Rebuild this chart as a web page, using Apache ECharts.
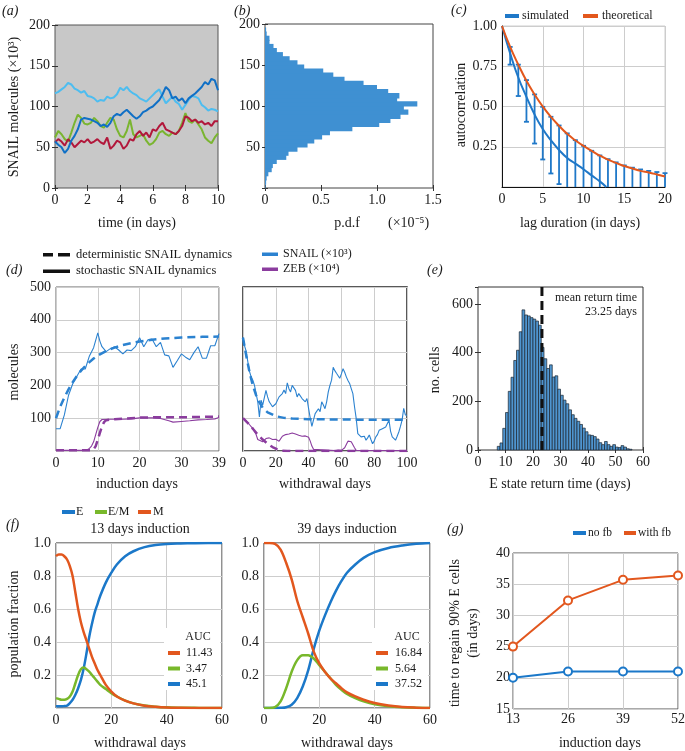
<!DOCTYPE html>
<html><head><meta charset="utf-8">
<script src="https://cdn.jsdelivr.net/npm/echarts@6/dist/echarts.min.js"></script>
<style>html,body{margin:0;padding:0;background:#fff}#c{width:685px;height:751px}</style>
</head><body><div id="c"></div><script>
// ---------------- DATA ----------------
// (a) SNAIL trajectories
const aTime = [0,0.2,0.4,0.6,0.8,1.0,1.2,1.4,1.6,1.8,2.0,2.2,2.4,2.6,2.8,3.0,3.2,3.4,3.6,3.8,4.0,4.2,4.4,4.6,4.8,5.0,5.2,5.4,5.6,5.8,6.0,6.2,6.4,6.6,6.8,7.0,7.2,7.4,7.6,7.8,8.0,8.2,8.4,8.6,8.8,9.0,9.2,9.4,9.6,9.8,10];
const aLightBlue = [116,118,121,124,129,127,122,120,117,119,113,112,110,106,108,107,112,110,111,115,123,120,124,119,116,114,110,108,106,110,114,118,121,112,104,108,112,106,103,96,102,108,113,112,110,102,99,95,97,96,94];
const aDarkBlue = [57,53,50,43,48,58,64,72,84,86,85,84,82,80,76,78,75,80,88,91,89,93,96,92,88,85,88,93,95,98,100,104,108,115,124,120,110,112,107,110,104,110,113,116,120,124,130,127,134,132,120];
const aGreen = [62,70,66,60,57,68,80,90,86,79,78,80,86,82,76,74,80,86,84,72,64,62,70,84,66,62,64,66,58,53,55,60,68,70,66,64,68,66,70,80,92,82,80,84,78,72,62,58,55,62,67];
const aRed = [56,60,57,52,60,56,50,54,58,56,60,55,57,60,56,54,62,48,52,58,56,48,52,60,58,66,70,64,68,62,72,70,76,80,72,70,68,66,70,76,88,86,82,84,80,82,78,80,76,82,82];

// (b) stationary pdf histogram (bins of SNAIL x10^3)
const pdfBinStart = [0,5,10,15,20,25,30,35,40,45,50,55,60,65,70,75,80,85,90,95,100,105,110,115,120,125,130,135,140,145,150,155,160,165,170,175,180,185,190,195];
const pdfBinWidth = 5;
const pdfValues = [0.005,0.01,0.015,0.03,0.06,0.07,0.105,0.19,0.21,0.29,0.38,0.44,0.51,0.58,0.78,1.02,1.12,1.21,1.28,1.24,1.36,1.18,1.2,1.1,1.0,0.88,0.71,0.61,0.52,0.35,0.29,0.22,0.16,0.106,0.076,0.04,0.04,0.015,0.01,0];

// (c) autocorrelation
const lagTheo = [0,1,2,3,4,5,6,7,8,9,10,11,12,13,14,15,16,17,18,19,20];
const acTheo = [1.0,0.87,0.76,0.66,0.575,0.5,0.435,0.38,0.33,0.29,0.255,0.225,0.195,0.17,0.15,0.13,0.115,0.1,0.09,0.078,0.065];
const lagSim = [0,1,2,3,4,5,6,7,8,9,10,11,12,12.8];
const acSim = [1.0,0.83,0.68,0.56,0.45,0.36,0.29,0.23,0.18,0.145,0.11,0.072,0.035,0];
const lagErr = [1,2,3,4,5,6,7,8,9,10,11,12,13,14,15,16,17,18,19,20];
const errHigh = [0.87,0.76,0.664,0.575,0.498,0.436,0.382,0.333,0.291,0.256,0.225,0.196,0.173,0.153,0.134,0.12,0.109,0.1,0.093,0.086];
const errLow = [0.76,0.565,0.405,0.27,0.171,0.084,0.018,-0.05,-0.1,-0.14,-0.17,-0.2,-0.22,-0.24,-0.26,-0.27,-0.28,-0.29,-0.3,-0.3];

// (d) induction (left) and withdrawal (right)
const dLSnailT = [0,1,2,3,4,4.5,5,6,7,8,9,10,10.5,11,12,13,14,15,16,17,18,19,20,21,22,23,24,25,26,27,28,29,30,31,32,33,34,35,36,37,38,39];
const dLSnailV = [68,68,110,170,205,216,228,250,250,290,315,360,335,318,303,312,318,308,296,308,306,318,345,318,339,341,318,331,293,290,255,275,296,286,278,300,318,283,283,321,321,358];
const dLSnailDetT = [0,1,2,3,4,5,6,7,8,9,10,12,14,16,18,20,23,26,30,35,39];
const dLSnailDetV = [100,135,163,188,210,229,245,259,271,282,291,305,315,323,329,334,339,343,346,348,349];
const dLZebT = [0,2,4,6,7,7.5,8,8.5,9,9.5,10,10.5,11,13,16,18,20,23,25,27,28,30,32,34,36,38,39];
const dLZebV = [2,2,2,2,2,4,8,15,28,50,72,90,96,97,97,98,101,101,99,92,88,90,92,95,96,98,102];
const dLZebDetT = [0,8.5,9,9.5,10,10.5,11,11.5,12,14,17,20,25,30,35,39];
const dLZebDetV = [2,2,5,15,35,55,75,88,94,97,99,102,103,103,104,105];
const dRSnailT = [0,1,2,3,4,5,6,7,8,9,10,11,12,13,14,15,16,17,18,19,20,21,22,23,24,25,26,27,28,29,30,31,32,33,34,35,36,37,38,39,40,41,42,43,44,45,46,47,48,49,50,51,52,53,54,55,56,57,58,59,60,61,62,63,64,65,66,67,68,69,70,71,72,73,74,75,76,77,78,79,80,81,82,83,84,85,86,87,88,89,90,91,92,93,94,95,96,97,98,99,100];
const dRSnailV = [347,320,303,270,242,225,216,200,175,150,104,155,140,135,185,165,150,145,135,140,144,150,165,160,175,186,175,208,190,180,200,206,185,165,175,170,160,155,150,160,129,100,75,95,114,110,129,120,150,140,129,150,180,200,216,255,245,237,240,222,235,251,240,226,215,206,190,175,135,100,53,50,43,40,45,33,40,49,35,22,30,43,50,63,60,68,65,73,70,94,60,43,40,33,45,58,75,94,130,110,109];
const dRSnailDetT = [0,2,4,6,8,10,12,15,20,25,30,40,60,80,100];
const dRSnailDetV = [345,290,240,200,170,148,132,118,106,101,99,97,96,95,95];
const dRZebT = [0,2,4,6,8,9,10,12,14,16,18,20,22,24,26,28,30,32,34,36,38,40,41,42,43,44,56,58,60,62,64,65,66,68,69,70,100];
const dRZebV = [100,92,80,68,50,35,30,28,38,40,35,36,30,45,50,52,55,52,48,45,46,42,30,15,5,1,1,3,2,10,30,35,28,10,2,1,1];
const dRZebDetT = [0,3,6,9,12,15,18,21,24,27,100];
const dRZebDetV = [100,85,68,50,35,22,12,5,1,0,0];

// (e) E state return time histogram (1-day bins)
const eBinStart = [7,8,9,10,11,12,13,14,15,16,17,18,19,20,21,22,23,24,25,26,27,28,29,30,31,32,33,34,35,36,37,38,39,40,41,42,43,44,45,46,47,48,49,50,51,52,53,54,55];
const eBinWidth = 1;
const eCounts = [15,29,89,154,241,299,368,410,486,576,555,551,544,538,530,513,422,375,335,350,300,305,250,225,205,190,165,145,130,118,105,90,75,62,60,55,45,30,22,35,22,15,22,12,10,18,12,5,3];
const eMean = 23.25;
const eYMax = 670;

// (f) population fractions after withdrawal
const f13T = [0,1,2,3,4,5,6,7,8,9,10,11,12,13,14,15,16,18,20,22,25,28,32,36,40,45,50,55,60];
const f13E = [0.01,0.01,0.01,0.012,0.015,0.03,0.05,0.08,0.12,0.17,0.24,0.33,0.43,0.51,0.58,0.63,0.68,0.76,0.82,0.87,0.92,0.95,0.975,0.988,0.994,0.997,0.999,1.0,1.0];
const f13EM = [0.06,0.055,0.05,0.05,0.055,0.07,0.1,0.15,0.2,0.235,0.245,0.235,0.22,0.2,0.18,0.16,0.14,0.115,0.09,0.07,0.045,0.028,0.015,0.008,0.004,0.002,0.001,0,0];
const f13M = [0.92,0.93,0.93,0.92,0.9,0.86,0.8,0.7,0.6,0.52,0.46,0.41,0.36,0.31,0.27,0.23,0.2,0.14,0.1,0.07,0.045,0.028,0.014,0.007,0.003,0.001,0,0,0];
const f39T = [0,2,4,6,8,10,12,14,16,18,20,22,24,26,28,30,33,36,40,45,50,55,60];
const f39E = [0,0,0,0.001,0.005,0.02,0.06,0.13,0.23,0.36,0.47,0.56,0.64,0.71,0.77,0.82,0.87,0.91,0.945,0.97,0.985,0.995,1.0];
const f39EM = [0,0,0.005,0.04,0.12,0.22,0.29,0.32,0.32,0.3,0.26,0.22,0.18,0.14,0.11,0.085,0.06,0.04,0.022,0.01,0.004,0.001,0];
const f39M = [1.0,1.0,0.995,0.96,0.88,0.78,0.65,0.55,0.45,0.34,0.27,0.22,0.18,0.15,0.12,0.095,0.07,0.05,0.03,0.015,0.006,0.002,0];
const auc13 = ['11.43','3.47','45.1'];
const auc39 = ['16.84','5.64','37.52'];

// (g) time to regain 90% E cells
const gInduction = [13,26,39,52];
const gNoFb = [20.0,21.0,21.0,21.0];
const gWithFb = [25.0,32.4,35.7,36.4];

// ---------------- STYLE / BUILD ----------------
const FONT = '"Liberation Serif", "Times New Roman", serif';
const TXT = '#1a1a1a';
const GRIDC = '#cdcdcd';
const C = {lb:'#4dbdf0', db:'#1070c6', gr:'#7ab530', rd:'#b2173b', bar:'#3f90d2',
  sim:'#1f78c8', theo:'#e3571c', dBlue:'#2b82d0', dPurple:'#8b3c9e',
  E:'#1b78c9', EM:'#78b82b', M:'#e2571e', hist:'#4f95cf'};

function merge(a,b){ const o=Object.assign({},a); for(const k in b){ const v=b[k];
  if(v && typeof v==='object' && !Array.isArray(v) && typeof v!=='function' && a[k] && typeof a[k]==='object') o[k]=merge(a[k],v); else o[k]=v; } return o; }
const baseAxis = {type:'value', axisLine:{show:false},
  axisTick:{show:true, inside:true, length:3, lineStyle:{color:'#333', width:1}},
  axisLabel:{show:true, color:TXT, fontFamily:FONT, fontSize:14, margin:5},
  splitLine:{show:false}};
const xAxes=[], yAxes=[], series=[];
function X(o){ xAxes.push(merge(baseAxis,o)); return xAxes.length-1; }
function Y(o){ yAxes.push(merge(baseAxis,o)); return yAxes.length-1; }
const noLab = {axisLabel:{show:false}};
const split = {splitLine:{show:true, lineStyle:{color:GRIDC, width:1}}};
const noTick = {axisTick:{show:false}};
function zip(a,b){ return a.map((x,i)=>[x,b[i]]); }
function line(xi, yi, xs, ys, color, width, extra){
  return merge({type:'line', xAxisIndex:xi, yAxisIndex:yi, data:zip(xs,ys), symbol:'none', showSymbol:false,
    lineStyle:{color, width}, itemStyle:{color}, silent:true, z:3}, extra||{});
}

const grids = [
  {left:55, top:25, width:163, height:163, show:true, backgroundColor:'#c8c8c8', borderColor:'#555', borderWidth:1}, // a
  {left:265, top:24, width:168, height:164, show:true, borderColor:'#444', borderWidth:1}, // b
  {left:502, top:26, width:163, height:161, show:true, borderColor:'#cfcfcf', borderWidth:1}, // c
  {left:56, top:287, width:163, height:164, show:true, borderColor:'#666', borderWidth:1}, // d left
  {left:243, top:287, width:164, height:164, show:true, borderColor:'#222', borderWidth:1.5}, // d right
  {left:478, top:287, width:165, height:163, show:true, borderColor:'#333', borderWidth:1}, // e
  {left:56, top:543, width:166, height:165, show:true, borderColor:'#222', borderWidth:1}, // f left
  {left:264, top:543, width:166, height:165, show:true, borderColor:'#222', borderWidth:1}, // f right
  {left:513, top:553, width:165, height:156, show:true, borderColor:'#555', borderWidth:1} // g
].map(g=>Object.assign({outerBoundsMode:'none', containLabel:false}, g));

// (a)
const ax_a = X({gridIndex:0, min:0, max:10, interval:2});
const ay_a = Y({gridIndex:0, min:0, max:200, interval:50});
X({gridIndex:0, min:0, max:10, interval:2, position:'top', ...noLab});
Y({gridIndex:0, min:0, max:200, interval:50, position:'right', ...noLab});
series.push(line(ax_a, ay_a, aTime, aLightBlue, C.lb, 2));
series.push(line(ax_a, ay_a, aTime, aGreen, C.gr, 2));
series.push(line(ax_a, ay_a, aTime, aRed, C.rd, 2));
series.push(line(ax_a, ay_a, aTime, aDarkBlue, C.db, 2));

// (b)
const ax_b = X({gridIndex:1, min:0, max:1.5, interval:0.5, axisLabel:{formatter:v=>v===0?'0':v.toFixed(1)}});
const ay_b = Y({gridIndex:1, min:0, max:200, interval:50, axisLabel:{formatter:v=>v===0?'':String(v)}});
X({gridIndex:1, min:0, max:1.5, interval:0.5, position:'top', ...noLab});
Y({gridIndex:1, min:0, max:200, interval:50, position:'right', ...noLab});
series.push({type:'custom', xAxisIndex:ax_b, yAxisIndex:ay_b, silent:true, z:3,
  data: pdfBinStart.map((s,i)=>[s, s+pdfBinWidth, pdfValues[i]]),
  encode:{x:2, y:0},
  renderItem:(p,api)=>{ const lo=api.value(0), hi=api.value(1), v=api.value(2);
    const p0=api.coord([0,hi]), p1=api.coord([v,lo]);
    return {type:'rect', shape:{x:p0[0], y:p0[1]-0.6, width:p1[0]-p0[0], height:p1[1]-p0[1]+1.2}, style:{fill:C.bar}}; }});

// (c)
const ax_c = X({gridIndex:2, min:0, max:20, interval:5, ...split, ...noTick, axisLine:{show:true, lineStyle:{color:'#111', width:1}}});
const ay_c = Y({gridIndex:2, min:0, max:1, interval:0.25, ...split, ...noTick, axisLine:{show:true, lineStyle:{color:'#111', width:1}},
  axisLabel:{formatter:v=>v===0?'':v.toFixed(2)}});
series.push({type:'custom', xAxisIndex:ax_c, yAxisIndex:ay_c, silent:true, z:3,
  data: lagErr.map((x,i)=>[x, errLow[i], errHigh[i]]), encode:{x:0, y:[1,2]},
  renderItem:(p,api)=>{ const x=api.value(0), loRaw=api.value(1), hi=api.value(2);
    const lo=Math.max(loRaw,0); const a=api.coord([x,hi]), b=api.coord([x,lo]); const w=2.5;
    const st={stroke:C.sim, lineWidth:1.8};
    const ch=[{type:'line', shape:{x1:a[0],y1:a[1],x2:b[0],y2:b[1]}, style:st},
              {type:'line', shape:{x1:a[0]-w,y1:a[1],x2:a[0]+w,y2:a[1]}, style:st}];
    if(loRaw>=0) ch.push({type:'line', shape:{x1:b[0]-w,y1:b[1],x2:b[0]+w,y2:b[1]}, style:st});
    return {type:'group', children:ch}; }});
series.push(line(ax_c, ay_c, lagSim, acSim, C.sim, 2, {smooth:true}));
series.push(line(ax_c, ay_c, lagTheo, acTheo, C.theo, 2, {smooth:true, z:4}));

// (d)
const ax_dL = X({gridIndex:3, min:0, max:39, interval:10, ...split, ...noTick});
const ay_dL = Y({gridIndex:3, min:0, max:500, interval:100, ...split, ...noTick, axisLabel:{formatter:v=>v===0?'':String(v)}});
const ax_dR = X({gridIndex:4, min:0, max:100, interval:20, ...split, ...noTick});
const ay_dR = Y({gridIndex:4, min:0, max:500, interval:100, ...split, ...noTick, ...noLab});
const dash = {lineStyle:{type:[8,5]}};
series.push(line(ax_dL, ay_dL, dLSnailDetT, dLSnailDetV, C.dBlue, 2.5, dash));
series.push(line(ax_dL, ay_dL, dLSnailT, dLSnailV, C.dBlue, 1.1));
series.push(line(ax_dL, ay_dL, dLZebDetT, dLZebDetV, C.dPurple, 2.5, dash));
series.push(line(ax_dL, ay_dL, dLZebT, dLZebV, C.dPurple, 1.1));
series.push(line(ax_dR, ay_dR, dRSnailDetT, dRSnailDetV, C.dBlue, 2.5, dash));
series.push(line(ax_dR, ay_dR, dRSnailT, dRSnailV, C.dBlue, 1.1));
series.push(line(ax_dR, ay_dR, dRZebDetT, dRZebDetV, C.dPurple, 2.5, dash));
series.push(line(ax_dR, ay_dR, dRZebT, dRZebV, C.dPurple, 1.1));

// (e)
const ax_e = X({gridIndex:5, min:0, max:60, interval:10});
const ay_e = Y({gridIndex:5, min:0, max:eYMax, interval:200, axisLabel:{showMaxLabel:false, formatter:v=>v%200===0?String(v):''}});
X({gridIndex:5, min:0, max:60, interval:10, position:'top', ...noLab});
Y({gridIndex:5, min:0, max:eYMax, interval:200, position:'right', ...noLab});
series.push({type:'custom', xAxisIndex:ax_e, yAxisIndex:ay_e, silent:true, z:3,
  data: eBinStart.map((s,i)=>[s, s+eBinWidth, eCounts[i]]), encode:{x:[0,1], y:2},
  renderItem:(p,api)=>{ const a=api.coord([api.value(0), api.value(2)]), b=api.coord([api.value(1), 0]);
    return {type:'rect', shape:{x:a[0], y:a[1], width:b[0]-a[0], height:b[1]-a[1]}, style:{fill:C.hist, stroke:'#1d2630', lineWidth:0.7}}; }});
series.push(line(ax_e, ay_e, [eMean, eMean], [0, eYMax], '#111', 3, {lineStyle:{type:[9,5]}, z:5}));

// (f)
const fy = {min:0, max:1, interval:0.2, ...split, ...noTick, axisLabel:{formatter:v=>v===0?'':v.toFixed(1)}};
const ax_fL = X({gridIndex:6, min:0, max:60, interval:20, ...split, ...noTick});
const ay_fL = Y(Object.assign({gridIndex:6}, fy));
const ax_fR = X({gridIndex:7, min:0, max:60, interval:20, ...split, ...noTick});
const ay_fR = Y(Object.assign({gridIndex:7}, fy));
const sm = {smooth:0.35};
series.push(line(ax_fL, ay_fL, f13T, f13E, C.E, 2.5, sm));
series.push(line(ax_fL, ay_fL, f13T, f13EM, C.EM, 2.5, sm));
series.push(line(ax_fL, ay_fL, f13T, f13M, C.M, 2.5, sm));
series.push(line(ax_fR, ay_fR, f39T, f39E, C.E, 2.5, sm));
series.push(line(ax_fR, ay_fR, f39T, f39EM, C.EM, 2.5, sm));
series.push(line(ax_fR, ay_fR, f39T, f39M, C.M, 2.5, sm));

// (g)
const ax_g = X({gridIndex:8, min:13, max:52, interval:13, ...split, ...noTick, axisLabel:{margin:3}});
const ay_g = Y({gridIndex:8, min:15, max:40, interval:5, ...split, ...noTick, axisLabel:{margin:3}});
const circ = {symbol:'emptyCircle', symbolSize:8, showSymbol:true};
series.push(line(ax_g, ay_g, gInduction, gNoFb, C.E, 2, Object.assign({itemStyle:{borderWidth:2}}, circ)));
series.push(line(ax_g, ay_g, gInduction, gWithFb, C.M, 2, Object.assign({itemStyle:{borderWidth:2}}, circ)));

// ---------------- TEXT / LEGENDS ----------------
const G = [];
function T(text, x, y, o){ o=o||{}; G.push({type:'text', x, y, rotation:o.rot||0, z:100,
  style:{text, fill:o.fill||TXT, font:(o.italic?'italic ':'')+(o.size||14)+'px '+FONT,
    textAlign:o.align||'left', textVerticalAlign:'middle', lineHeight:o.lh||undefined}}); }
function R(x,y,w,h,fill,z){ G.push({type:'rect', z:z||100, shape:{x,y,width:w,height:h}, style:{fill}}); }
const ROT = Math.PI/2;
// panel labels
T('(a)', 2, 11, {italic:true}); T('(b)', 234, 11, {italic:true}); T('(c)', 451, 10, {italic:true});
T('(d)', 6, 270, {italic:true}); T('(e)', 427, 270, {italic:true}); T('(f)', 6, 525, {italic:true});
T('(g)', 447, 529, {italic:true});
// axis titles
T('SNAIL molecules (×10³)', 14, 107, {rot:ROT, align:'center'});
T('time (in days)', 137, 223, {align:'center'});
T('p.d.f', 347, 223, {align:'center'});
T('(×10⁻⁵)', 388, 223);
T('lag duration (in days)', 580, 223, {align:'center'});
T('autocorrelation', 461, 105, {rot:ROT, align:'center'});
T('molecules', 14, 372, {rot:ROT, align:'center'});
T('induction days', 137, 484, {align:'center'});
T('withdrawal days', 325, 484, {align:'center'});
T('no. cells', 435, 370, {rot:ROT, align:'center'});
T('E state return time (days)', 560, 484, {align:'center'});
T('mean return time', 637, 298, {align:'right', size:12});
T('23.25 days', 637, 312, {align:'right', size:12});
T('13 days induction', 140, 529, {align:'center'});
T('39 days induction', 347, 529, {align:'center'});
T('population fraction', 14, 624, {rot:ROT, align:'center'});
T('withdrawal days', 140, 743, {align:'center'});
T('withdrawal days', 347, 743, {align:'center'});
T('time to regain 90% E cells\n(in days)', 464, 633, {rot:ROT, align:'center', lh:18});
T('induction days', 600, 743, {align:'center'});
// legend (c)
R(505,14,14,4,C.sim); T('simulated', 522, 16, {size:12});
R(583,14,15,4,C.theo); T('theoretical', 602, 16, {size:12});
// legend (d)
R(43,253,10,3.5,'#111'); R(58,253,12,3.5,'#111'); T('deterministic SNAIL dynamics', 76, 255, {size:12.5});
R(43,269.5,27,3.5,'#111'); T('stochastic SNAIL dynamics', 76, 271, {size:12.5});
R(262,252.5,16,3.5,C.dBlue); T('SNAIL (×10³)', 283, 254, {size:12});
R(262,267.5,16,3.5,C.dPurple); T('ZEB (×10⁴)', 283, 269, {size:12});
// legend (f)
R(62,510,13,4,C.E); T('E', 76, 512, {size:12});
R(95,510,12,4,C.EM); T('E/M', 108, 512, {size:12});
R(138,510,13,4,C.M); T('M', 153, 512, {size:12});
// AUC boxes
R(164,628,56,62,'#fff',90); R(372,628,56,62,'#fff',90);
T('AUC', 198, 637, {align:'center', size:12});
R(168,651,12,4,C.M); T(auc13[0], 186, 653, {size:12});
R(168,666.5,12,4,C.EM); T(auc13[1], 186, 668.5, {size:12});
R(168,682,12,4,C.E); T(auc13[2], 186, 684, {size:12});
T('AUC', 407, 637, {align:'center', size:12});
R(376,651,12,4,C.M); T(auc39[0], 395, 653, {size:12});
R(376,666.5,12,4,C.EM); T(auc39[1], 395, 668.5, {size:12});
R(376,682,12,4,C.E); T(auc39[2], 395, 684, {size:12});
// legend (g)
R(573,531,13,4,C.E); T('no fb', 588, 533, {size:11.5});
R(624,531,12,4,C.M); T('with fb', 638, 533, {size:11.5});

const chart = echarts.init(document.getElementById('c'), null, {renderer:'canvas'});
chart.setOption({animation:false, backgroundColor:'#fff', grid:grids, xAxis:xAxes, yAxis:yAxes, series, graphic:{elements:G}});
</script></body></html>
